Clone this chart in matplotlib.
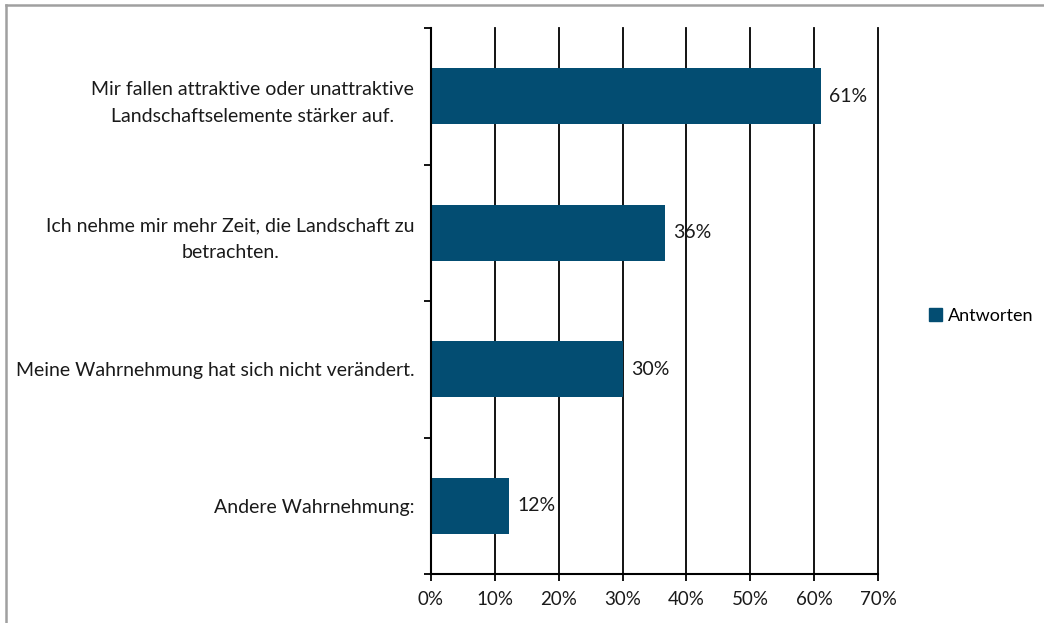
import matplotlib
matplotlib.use("Agg")
import matplotlib.pyplot as plt
from matplotlib.lines import Line2D
from matplotlib.patches import Patch

categories = [
    "Mir fallen attraktive oder unattraktive\nLandschaftselemente stärker auf.",
    "Ich nehme mir mehr Zeit, die Landschaft zu\nbetrachten.",
    "Meine Wahrnehmung hat sich nicht verändert.",
    "Andere Wahrnehmung:",
]
values = [0.61, 0.366, 0.30, 0.122]
value_labels = ["61%", "36%", "30%", "12%"]
series_name = "Antworten"
x_ticks = [0, 0.1, 0.2, 0.3, 0.4, 0.5, 0.6, 0.7]
x_tick_labels = ["0%", "10%", "20%", "30%", "40%", "50%", "60%", "70%"]

bar_color = "#034d72"
plt.rcParams["font.family"] = ["Lato", "DejaVu Sans"]
plt.rcParams["font.size"] = 14

W, H = 1044, 623
fig = plt.figure(figsize=(W / 100, H / 100), dpi=100)
ax = fig.add_axes([431 / W, 1 - 574 / H, (878 - 431) / W, (574 - 28) / H])

n = len(categories)
ypos = list(range(n))
ax.barh(ypos, values, height=0.41, color=bar_color, zorder=3)
ax.set_ylim(n - 0.5, -0.5)
ax.set_xlim(0, 0.7)

for y, v, lab in zip(ypos, values, value_labels):
    ax.annotate(lab, (v, y), xytext=(6, 0), textcoords="offset points",
                va="center", ha="left", color="#1a1a1a", zorder=4)

ax.set_xticks(x_ticks)
ax.set_xticklabels(x_tick_labels, fontsize=13.5)
ax.set_yticks(ypos)
ax.set_yticklabels(categories, ha="right", multialignment="center", linespacing=1.7)
ax.set_yticks([i - 0.5 for i in range(n + 1)], minor=True)
ax.tick_params(axis="y", which="major", length=0, pad=12, colors="#1a1a1a")
ax.tick_params(axis="y", which="minor", length=5, width=1.3, direction="out", color="black")
ax.tick_params(axis="x", which="major", length=5, width=1.3, direction="out", pad=7, colors="#1a1a1a")
ax.tick_params(axis="x", which="major", color="black")

ax.grid(axis="x", color="black", linewidth=1.3, zorder=0)
for gl in ax.get_xgridlines():
    gl.set_clip_on(False)
for s in ["top", "right"]:
    ax.spines[s].set_visible(False)
for s in ["left", "bottom"]:
    ax.spines[s].set_linewidth(1.5)
    ax.spines[s].set_color("black")
    ax.spines[s].set_zorder(5)

fig.legend(handles=[Patch(color=bar_color, label=series_name)],
           loc="center left", bbox_to_anchor=(929 / W, 1 - 316 / H),
           frameon=False, handlelength=0.7, handleheight=0.7, handletextpad=0.35,
           borderpad=0, borderaxespad=0, fontsize=13)

# figure border (top and left only visible)
fig.add_artist(Line2D([6 / W, 1], [1 - 5 / H, 1 - 5 / H], transform=fig.transFigure,
                      color="#a0a0a0", linewidth=1.8))
fig.add_artist(Line2D([6 / W, 6 / W], [0, 1 - 5 / H], transform=fig.transFigure,
                      color="#a0a0a0", linewidth=1.8))

fig.savefig("out.png", dpi=100)
